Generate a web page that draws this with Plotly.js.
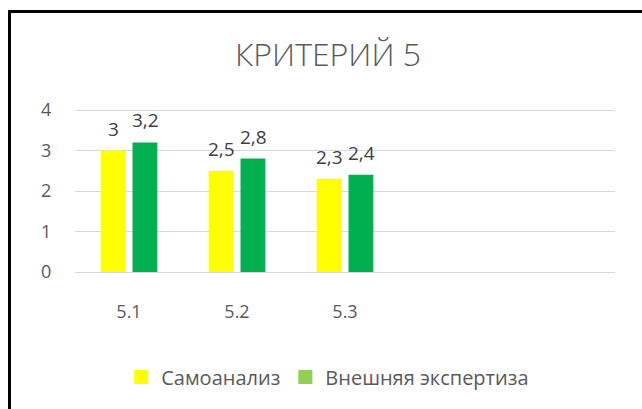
<!DOCTYPE html>
<html>
<head>
<meta charset="utf-8">
<script src="https://cdn.plot.ly/plotly-3.0.1.min.js"></script>
<style>
  html, body { margin: 0; padding: 0; background: #fff; overflow: hidden; }
  #wrap { position: relative; width: 642px; height: 409px; }
  #chart { position: absolute; left: 0; top: 0; width: 642px; height: 409px; }
  #frame { position: absolute; left: 8px; top: 10px; width: 700px; height: 500px;
           border-left: 3px solid #000; border-top: 3px solid #000; pointer-events: none; }
</style>
</head>
<body>
<div id="wrap">
  <div id="chart"></div>
  <div id="frame"></div>
</div>
<script>
const chartTitle = 'КРИТЕРИЙ 5';
const categories = ['5.1', '5.2', '5.3'];
const seriesNames = ['Самоанализ', 'Внешняя экспертиза'];
const selfValues = [3, 2.5, 2.3];
const expertValues = [3.2, 2.8, 2.4];
const yTicks = [0, 1, 2, 3, 4];

const barColors = ['#FFFF00', '#00B050'];
const legendColors = ['#FFFF00', '#92D050'];
const textColor = '#595959';
const font = '"Open Sans", "Noto Sans", sans-serif';

const seriesValues = [selfValues, expertValues];

const traces = [];
seriesValues.forEach((vals, s) => {
  traces.push({
    type: 'bar',
    x: categories,
    y: vals,
    name: seriesNames[s],
    marker: { color: barColors[s] },
    showlegend: false,
    hoverinfo: 'x+y'
  });
});
// legend-only entries (legend swatch colours differ from bars in the original)
seriesNames.forEach((nm, s) => {
  traces.push({
    type: 'scatter',
    mode: 'markers',
    x: [null],
    y: [null],
    name: nm,
    marker: { color: legendColors[s], symbol: 'square', size: 14 },
    showlegend: true,
    hoverinfo: 'skip'
  });
});

const fmt = v => String(v).replace('.', ',');
const annotations = [];
seriesValues.forEach((vals, s) => {
  vals.forEach((v, i) => {
    annotations.push({
      x: i, y: v, xref: 'x', yref: 'y',
      text: fmt(v), showarrow: false,
      xshift: s === 0 ? -16 : 16, yshift: 22,
      yanchor: 'middle', xanchor: 'center',
      font: { family: font, size: 19, color: '#404040' }
    });
  });
});

const layout = {
  width: 642, height: 409,
  margin: { l: 75, r: 27, t: 108, b: 137 },
  paper_bgcolor: 'rgba(0,0,0,0)',
  plot_bgcolor: 'rgba(0,0,0,0)',
  barmode: 'group',
  bargap: 0.41,
  bargroupgap: 0.22,
  title: {
    text: chartTitle,
    x: 0.511, xanchor: 'center',
    y: 0.866, yanchor: 'middle',
    font: { family: font, size: 32, color: textColor, weight: 300 }
  },
  xaxis: {
    type: 'category',
    range: [-0.5, 4.5],
    showgrid: false,
    showline: true, linecolor: '#D9D9D9', linewidth: 1,
    ticks: 'outside', ticklen: 23, tickcolor: 'rgba(0,0,0,0)',
    tickfont: { family: font, size: 18, color: textColor },
    fixedrange: true
  },
  yaxis: {
    range: [0, 4.05],
    tickvals: yTicks,
    showgrid: true, gridcolor: '#D9D9D9', gridwidth: 1,
    zeroline: false, showline: false,
    ticks: 'outside', ticklen: 19, tickcolor: 'rgba(0,0,0,0)',
    tickfont: { family: font, size: 18, color: textColor },
    fixedrange: true
  },
  legend: {
    orientation: 'h',
    x: 0.468, xanchor: 'center',
    y: -0.64, yanchor: 'middle',
    font: { family: font, size: 20, color: textColor },
    itemwidth: 30,
    traceorder: 'normal'
  },
  annotations: annotations,
  showlegend: true
};

Plotly.newPlot('chart', traces, layout, { displayModeBar: false, staticPlot: true });
</script>
</body>
</html>
